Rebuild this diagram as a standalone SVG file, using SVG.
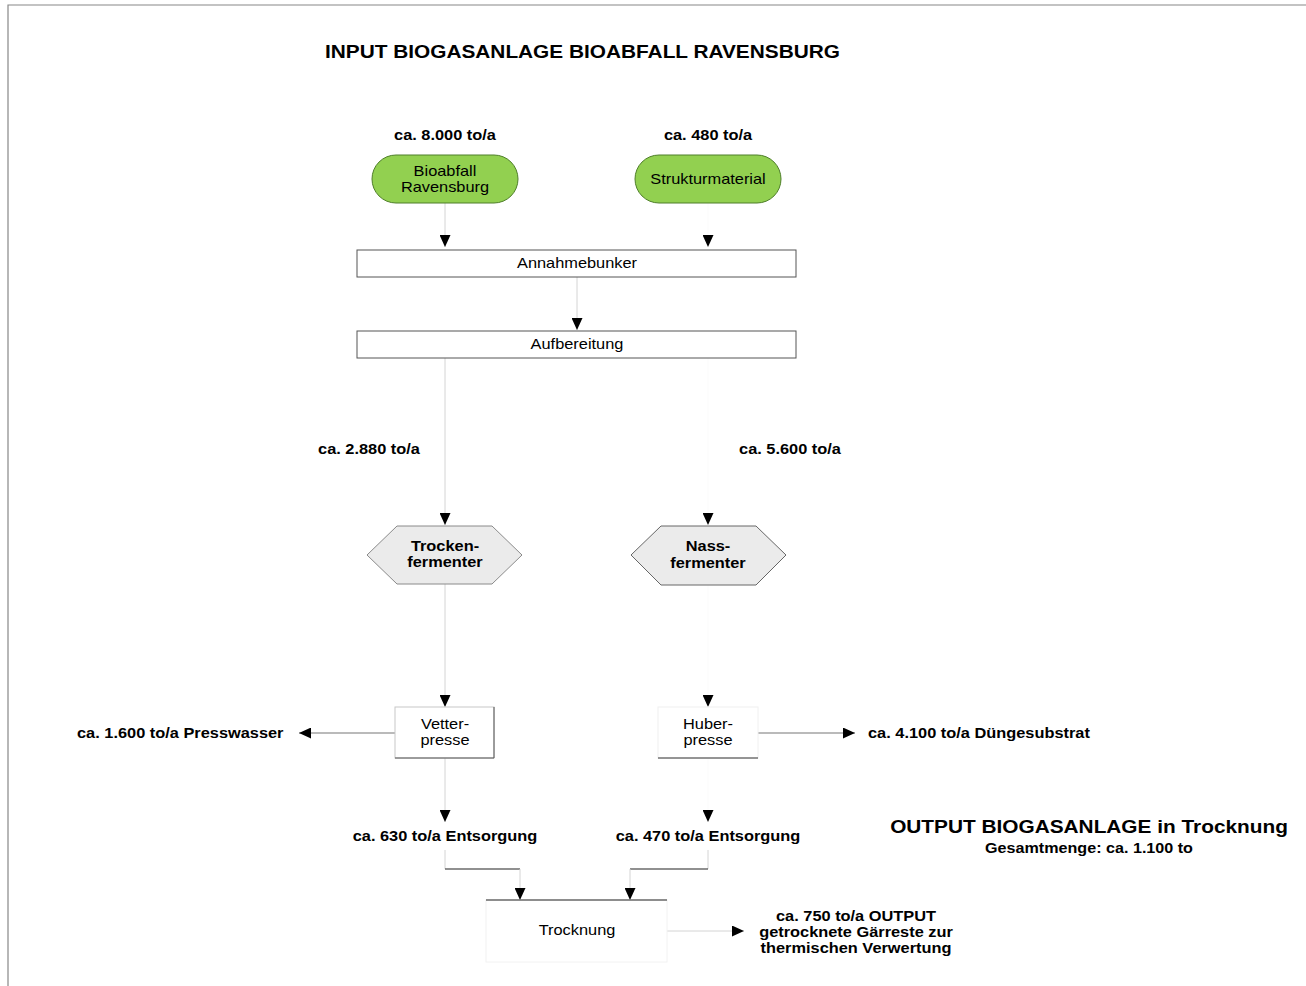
<svg xmlns="http://www.w3.org/2000/svg" width="1306" height="986" viewBox="0 0 1306 986">
<style>
text{font-family:"Liberation Sans",Arial,sans-serif;fill:#000}
.b{font-weight:bold;font-size:14px}
.n{font-size:14px}
.t{font-weight:bold;font-size:17.8px}
.g{font-weight:bold;font-size:13.8px}
.m{text-anchor:middle}
.lc{fill:none;stroke:#d4d4d4;stroke-width:1}
.inv{fill:none;stroke:#fbfbfb;stroke-width:1}
.dk{fill:none;stroke:#777;stroke-width:1.2}
.blk{fill:none;stroke:#222;stroke-width:1.2}
</style>
<defs>
<marker id="ah" viewBox="0 0 12 11" refX="12" refY="5.5" markerWidth="12" markerHeight="11" markerUnits="userSpaceOnUse" orient="auto"><path d="M0,0 L12,5.5 L0,11 Z" fill="#000"/></marker>
</defs>
<rect width="1306" height="986" fill="#fff"/>
<path d="M8,986 V5 H1306" fill="none" stroke="#888" stroke-width="1.2"/>

<g id="title">
<text class="t" transform="translate(325 58) scale(1.17 1)">INPUT BIOGASANLAGE BIOABFALL RAVENSBURG</text>
</g>
<g id="output-title">
<text class="t m" transform="translate(1089 833) scale(1.17 1)">OUTPUT BIOGASANLAGE in Trocknung</text>
<text class="g m" transform="translate(1089 853) scale(1.17 1)">Gesamtmenge: ca. 1.100 to</text>
</g>

<g id="connectors">
<path class="lc" d="M445,203 V247" marker-end="url(#ah)"/>
<path class="inv" d="M708,203 V247" marker-end="url(#ah)"/>
<path class="lc" d="M577,277 V330" marker-end="url(#ah)"/>
<path class="lc" d="M445,358 V525" marker-end="url(#ah)"/>
<path class="inv" d="M708,358 V525" marker-end="url(#ah)"/>
<path class="lc" d="M445,584 V707" marker-end="url(#ah)"/>
<path class="inv" d="M708,585 V707" marker-end="url(#ah)"/>
<path class="dk" d="M395,733 H299" marker-end="url(#ah)"/>
<path class="dk" d="M758,733 H855" marker-end="url(#ah)"/>
<path class="lc" d="M445,758 V822" marker-end="url(#ah)"/>
<path class="inv" d="M708,758 V822" marker-end="url(#ah)"/>
<path class="lc" d="M445,850 V869"/>
<path class="blk" d="M445,869 H520"/>
<path class="lc" d="M520,869 V900" marker-end="url(#ah)"/>
<path class="lc" d="M708,850 V869"/>
<path class="blk" d="M630,869 H708"/>
<path class="lc" d="M630,869 V900" marker-end="url(#ah)"/>
<path class="lc" d="M667,931 H744" marker-end="url(#ah)"/>
</g>

<g id="bioabfall">
<text class="b m" transform="translate(445 140) scale(1.17 1)">ca. 8.000 to/a</text>
<rect x="372" y="155" width="146" height="48" rx="24" ry="24" fill="#92d050" stroke="#4f7f2a" stroke-width="1"/>
<text class="n m" transform="translate(445 176) scale(1.17 1)">Bioabfall</text>
<text class="n m" transform="translate(445 192) scale(1.17 1)">Ravensburg</text>
</g>

<g id="strukturmaterial">
<text class="b m" transform="translate(708 140) scale(1.17 1)">ca. 480 to/a</text>
<rect x="635" y="155" width="146" height="48" rx="24" ry="24" fill="#92d050" stroke="#4f7f2a" stroke-width="1"/>
<text class="n m" transform="translate(708 184) scale(1.17 1)">Strukturmaterial</text>
</g>

<g id="annahmebunker">
<rect x="357" y="250" width="439" height="27" fill="#fff" stroke="#555" stroke-width="1"/>
<text class="n m" transform="translate(577 268) scale(1.17 1)">Annahmebunker</text>
</g>

<g id="aufbereitung">
<rect x="357" y="331" width="439" height="27" fill="#fff" stroke="#555" stroke-width="1"/>
<text class="n m" transform="translate(577 349) scale(1.17 1)">Aufbereitung</text>
</g>

<g id="label-2880">
<text class="b m" transform="translate(369 454) scale(1.17 1)">ca. 2.880 to/a</text>
</g>
<g id="label-5600">
<text class="b m" transform="translate(790 454) scale(1.17 1)">ca. 5.600 to/a</text>
</g>

<g id="trockenfermenter">
<path d="M367,555 L397,526 H492 L522,555 L492,584 H397 Z" fill="#ebebeb" stroke="#8a8a8a" stroke-width="1"/>
<text class="b m" transform="translate(445 551) scale(1.17 1)">Trocken-</text>
<text class="b m" transform="translate(445 567) scale(1.17 1)">fermenter</text>
</g>

<g id="nassfermenter">
<path d="M631,555 L661,526 H756 L786,555 L756,585 H661 Z" fill="#ebebeb" stroke="#666" stroke-width="1"/>
<text class="b m" transform="translate(708 551) scale(1.17 1)">Nass-</text>
<text class="b m" transform="translate(708 568) scale(1.17 1)">fermenter</text>
</g>

<g id="vetterpresse">
<rect x="395" y="707" width="99" height="51" fill="#fff" stroke="#c8c8c8" stroke-width="1"/>
<path d="M494,707 V758 H395" fill="none" stroke="#555" stroke-width="1"/>
<text class="n m" transform="translate(445 729) scale(1.17 1)">Vetter-</text>
<text class="n m" transform="translate(445 745) scale(1.17 1)">presse</text>
</g>

<g id="presswasser">
<text class="b" transform="translate(77 738) scale(1.17 1)">ca. 1.600 to/a Presswasser</text>
</g>

<g id="huberpresse">
<rect x="658" y="707" width="100" height="51" fill="#fff" stroke="#f0f0f0" stroke-width="1"/>
<path d="M658,758 H758" fill="none" stroke="#333" stroke-width="1.2"/>
<text class="n m" transform="translate(708 729) scale(1.17 1)">Huber-</text>
<text class="n m" transform="translate(708 745) scale(1.17 1)">presse</text>
</g>

<g id="duengesubstrat">
<text class="b" transform="translate(868 738) scale(1.17 1)">ca. 4.100 to/a Düngesubstrat</text>
</g>

<g id="entsorgung-630">
<text class="b m" transform="translate(445 841) scale(1.17 1)">ca. 630 to/a Entsorgung</text>
</g>
<g id="entsorgung-470">
<text class="b m" transform="translate(708 841) scale(1.17 1)">ca. 470 to/a Entsorgung</text>
</g>

<g id="trocknung">
<rect x="486" y="900" width="181" height="62" fill="#fff" stroke="#f2f2f2" stroke-width="1"/>
<path d="M486,900 H667" fill="none" stroke="#222" stroke-width="1.2"/>
<text class="n m" transform="translate(577 935) scale(1.17 1)">Trocknung</text>
</g>

<g id="output-750">
<text class="b m" transform="translate(856 921) scale(1.17 1)">ca. 750 to/a OUTPUT</text>
<text class="b m" transform="translate(856 937) scale(1.17 1)">getrocknete Gärreste zur</text>
<text class="b m" transform="translate(856 953) scale(1.17 1)">thermischen Verwertung</text>
</g>
</svg>
